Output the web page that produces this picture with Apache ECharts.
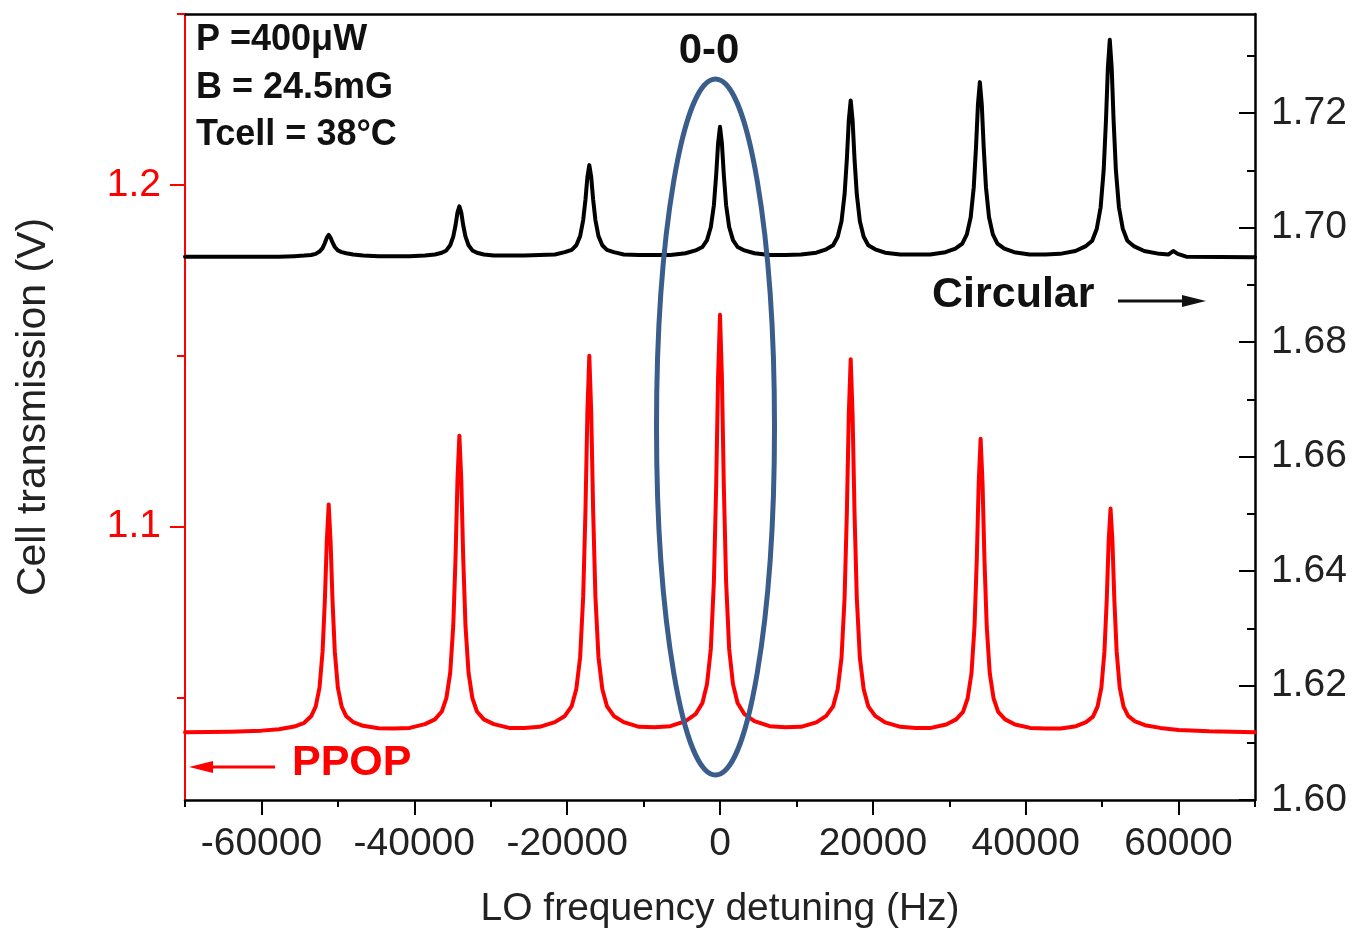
<!DOCTYPE html>
<html>
<head>
<meta charset="utf-8">
<script src="https://cdn.jsdelivr.net/npm/echarts@6/dist/echarts.min.js"></script>
<style>
html,body{margin:0;padding:0;background:#fff;}
#chart{width:1355px;height:937px;}
</style>
</head>
<body>
<div id="chart"></div>
<script>
// ---- Data ----
// PPOP trace (left axis, V) : [detuning Hz, transmission V]
const ppopData = [
  [-70000,1.0398],[-64000,1.0400],[-60000,1.0403],
  [-57700,1.0407],[-55700,1.0415],[-54400,1.0426],[-53500,1.0445],[-52900,1.0473],[-52400,1.0529],[-52000,1.0634],[-51700,1.0784],[-51450,1.0955],[-51200,1.1065],
  [-50950,1.0955],[-50700,1.0784],[-50400,1.0634],[-50000,1.0529],[-49500,1.0473],[-48900,1.0445],[-48000,1.0428],[-46700,1.0417],[-44700,1.0410],
  [-42650,1.0409],
  [-40600,1.0411],[-38600,1.0422],[-37300,1.0436],[-36400,1.0459],[-35800,1.0498],[-35300,1.0572],[-34900,1.0710],[-34600,1.0910],[-34350,1.1136],[-34100,1.1266],
  [-33850,1.1136],[-33600,1.0910],[-33300,1.0710],[-32900,1.0572],[-32400,1.0498],[-31800,1.0459],[-30900,1.0436],[-29600,1.0422],[-27600,1.0411],
  [-25600,1.0411],
  [-23600,1.0414],[-21600,1.0428],[-20300,1.0446],[-19400,1.0475],[-18800,1.0525],[-18300,1.0618],[-17900,1.0795],[-17600,1.1048],[-17350,1.1335],[-17100,1.1500],
  [-16850,1.1335],[-16600,1.1048],[-16300,1.0795],[-15900,1.0618],[-15400,1.0525],[-14800,1.0475],[-13900,1.0446],[-12600,1.0428],[-10600,1.0414],
  [-8550,1.0413],
  [-6500,1.0416],[-4500,1.0431],[-3200,1.0451],[-2300,1.0484],[-1700,1.0539],[-1200,1.0642],[-800,1.0838],[-500,1.1119],[-250,1.1437],[0,1.1620],
  [250,1.1437],[500,1.1119],[800,1.0838],[1200,1.0642],[1700,1.0539],[2300,1.0484],[3200,1.0451],[4500,1.0431],[6500,1.0416],
  [8550,1.0413],
  [10600,1.0414],[12600,1.0427],[13900,1.0446],[14800,1.0474],[15400,1.0524],[15900,1.0616],[16300,1.0791],[16600,1.1042],[16850,1.1326],[17100,1.1490],
  [17350,1.1326],[17600,1.1042],[17900,1.0791],[18300,1.0616],[18800,1.0524],[19400,1.0474],[20300,1.0446],[21600,1.0427],[23600,1.0414],
  [25600,1.0411],
  [27600,1.0411],[29600,1.0421],[30900,1.0436],[31800,1.0458],[32400,1.0497],[32900,1.0570],[33300,1.0707],[33600,1.0905],[33850,1.1128],[34100,1.1257],
  [34350,1.1128],[34600,1.0905],[34900,1.0707],[35300,1.0570],[35800,1.0497],[36400,1.0458],[37300,1.0436],[38600,1.0421],[40600,1.0411],
  [42600,1.0409],
  [44600,1.0409],[46600,1.0416],[47900,1.0428],[48800,1.0444],[49400,1.0473],[49900,1.0529],[50300,1.0634],[50600,1.0784],[50850,1.0955],[51100,1.1053],
  [51350,1.0955],[51600,1.0784],[51900,1.0634],[52300,1.0529],[52800,1.0473],[53400,1.0446],[54300,1.0430],[55600,1.0419],[57600,1.0411],
  [60000,1.0405],[64000,1.0401],[70000,1.0398]
];

// Circular trace (right axis, V) : [detuning Hz, transmission V]
const circularData = [
  [-70000,1.6949],[-60000,1.6949],
  [-57700,1.6949],[-55700,1.6950],[-54400,1.6951],[-53500,1.6952],[-52900,1.6954],[-52400,1.6958],[-52000,1.6964],[-51700,1.6973],[-51450,1.6982],[-51200,1.6987],
  [-50950,1.6982],[-50700,1.6974],[-50400,1.6966],[-50000,1.6960],[-49500,1.6957],[-48900,1.6955],[-48000,1.6953],[-46700,1.6951],[-44700,1.6950],
  [-42650,1.6950],
  [-40600,1.6950],[-38600,1.6951],[-37300,1.6953],[-36400,1.6956],[-35800,1.6960],[-35300,1.6969],[-34900,1.6984],[-34600,1.7004],[-34350,1.7026],[-34100,1.7037],
  [-33850,1.7026],[-33600,1.7004],[-33300,1.6984],[-32900,1.6969],[-32400,1.6960],[-31800,1.6956],[-30900,1.6953],[-29600,1.6951],[-27600,1.6951],
  [-25600,1.6951],
  [-23600,1.6952],[-21600,1.6953],[-20300,1.6957],[-19400,1.6961],[-18800,1.6969],[-18300,1.6985],[-17900,1.7013],[-17600,1.7049],[-17350,1.7088],[-17100,1.7109],
  [-16850,1.7088],[-16600,1.7049],[-16300,1.7013],[-15900,1.6985],[-15400,1.6969],[-14800,1.6961],[-13900,1.6957],[-12600,1.6953],[-10600,1.6952],
  [-8550,1.6952],
  [-6500,1.6952],[-4500,1.6955],[-3200,1.6960],[-2300,1.6966],[-1700,1.6978],[-1200,1.7001],[-800,1.7039],[-500,1.7092],[-250,1.7147],[0,1.7176],
  [250,1.7147],[500,1.7092],[800,1.7039],[1200,1.7001],[1700,1.6978],[2300,1.6966],[3200,1.6960],[4500,1.6955],[6500,1.6952],
  [8550,1.6952],
  [10600,1.6953],[12600,1.6956],[13900,1.6962],[14800,1.6969],[15400,1.6984],[15900,1.7011],[16300,1.7058],[16600,1.7120],[16850,1.7187],[17100,1.7222],
  [17350,1.7187],[17600,1.7120],[17900,1.7058],[18300,1.7011],[18800,1.6984],[19400,1.6969],[20300,1.6962],[21600,1.6956],[23600,1.6953],
  [25600,1.6953],
  [27500,1.6953],[29500,1.6957],[30800,1.6963],[31700,1.6972],[32300,1.6988],[32800,1.7018],[33200,1.7070],[33500,1.7141],[33750,1.7215],[34000,1.7254],
  [34250,1.7215],[34500,1.7141],[34800,1.7070],[35200,1.7018],[35700,1.6988],[36300,1.6972],[37200,1.6963],[38500,1.6957],[40500,1.6953],
  [42550,1.6953],
  [44500,1.6954],[46500,1.6959],[47800,1.6967],[48700,1.6977],[49300,1.6998],[49800,1.7035],[50200,1.7100],[50500,1.7187],[50750,1.7279],[51000,1.7328],
  [51250,1.7279],[51500,1.7187],[51800,1.7100],[52200,1.7035],[52700,1.6998],[53300,1.6977],[54200,1.6967],[55500,1.6959],[57500,1.6954],
  [58700,1.6953],[59300,1.6959],[59900,1.6954],[61000,1.6949],[70000,1.6948]
];

// Axis ticks / labels
const xMajorTicks = [-60000,-40000,-20000,0,20000,40000,60000];
const leftMajorTicks = [1.1,1.2];
const leftMinorTicks = [1.05,1.15,1.25];
const rightMajorTicks = [1.60,1.62,1.64,1.66,1.68,1.70,1.72];
const rightMinorTicks = [1.61,1.63,1.65,1.67,1.69,1.71,1.73];

const FONT = "'Liberation Sans', Arial, Helvetica, sans-serif";
const RED = '#ff0000';
const BLACK = '#000000';
const TEXT = '#222222';

const chart = echarts.init(document.getElementById('chart'), null, {renderer:'canvas'});

const X_MIN = -70000, X_MAX = 70000;
const L_MIN = 1.02, L_MAX = 1.25;
const R_MIN = 1.60, R_MAX = 1.7373;

const option = {
  backgroundColor: '#ffffff',
  animation: false,
  grid: {left:185, right:100, top:14, bottom:137, containLabel:false, outerBoundsMode:'none'},
  xAxis: [
    {
      type:'value', position:'bottom', min:X_MIN, max:X_MAX, interval:10000,
      axisLine:{show:true, onZero:false, lineStyle:{color:BLACK, width:2.5}},
      axisTick:{show:true, inside:false, length:7, lineStyle:{color:BLACK, width:2}},
      axisLabel:{customValues:xMajorTicks, formatter:(v)=>String(v), fontSize:39, color:TEXT, fontFamily:FONT, margin:25},
      splitLine:{show:false},
      name:'LO frequency detuning (Hz)', nameLocation:'middle', nameGap:90,
      nameTextStyle:{fontSize:39, color:TEXT, fontFamily:FONT}
    },
    {
      type:'value', position:'bottom', min:X_MIN, max:X_MAX,
      axisLine:{show:false, onZero:false},
      axisTick:{show:true, inside:false, length:15, customValues:xMajorTicks, lineStyle:{color:BLACK, width:2}},
      axisLabel:{show:false}, splitLine:{show:false}
    },
    {
      type:'value', position:'top', min:X_MIN, max:X_MAX,
      axisLine:{show:true, onZero:false, lineStyle:{color:BLACK, width:2.5}},
      axisTick:{show:false}, axisLabel:{show:false}, splitLine:{show:false}
    }
  ],
  yAxis: [
    {
      type:'value', position:'left', min:L_MIN, max:L_MAX,
      axisLine:{show:true, onZero:false, lineStyle:{color:RED, width:2}},
      axisTick:{show:true, inside:false, length:15, customValues:leftMajorTicks, lineStyle:{color:RED, width:2}},
      axisLabel:{customValues:leftMajorTicks, formatter:(v)=>v.toFixed(1), fontSize:39, color:RED, fontFamily:FONT, margin:24},
      splitLine:{show:false},
      name:'Cell transmission (V)', nameLocation:'middle', nameRotate:90, nameGap:131,
      nameTextStyle:{fontSize:41, color:TEXT, fontFamily:FONT}
    },
    {
      type:'value', position:'right', min:R_MIN, max:R_MAX,
      axisLine:{show:true, onZero:false, lineStyle:{color:BLACK, width:2.5}},
      axisTick:{show:true, inside:true, length:16, customValues:rightMajorTicks, lineStyle:{color:BLACK, width:2}},
      axisLabel:{customValues:rightMajorTicks, formatter:(v)=>v.toFixed(2), fontSize:39, color:TEXT, fontFamily:FONT, margin:16},
      splitLine:{show:false}
    },
    {
      type:'value', position:'left', min:L_MIN, max:L_MAX,
      axisLine:{show:false, onZero:false},
      axisTick:{show:true, inside:false, length:8, customValues:leftMinorTicks, lineStyle:{color:RED, width:2}},
      axisLabel:{show:false}, splitLine:{show:false}
    },
    {
      type:'value', position:'right', min:R_MIN, max:R_MAX,
      axisLine:{show:false, onZero:false},
      axisTick:{show:true, inside:true, length:8, customValues:rightMinorTicks, lineStyle:{color:BLACK, width:2}},
      axisLabel:{show:false}, splitLine:{show:false}
    }
  ],
  series: [
    {
      name:'PPOP', type:'line', xAxisIndex:0, yAxisIndex:0, data:ppopData,
      showSymbol:false, symbol:'none', smooth:false, clip:true,
      lineStyle:{color:RED, width:4, join:'round', cap:'round'}, z:3
    },
    {
      name:'Circular', type:'line', xAxisIndex:0, yAxisIndex:1, data:circularData,
      showSymbol:false, symbol:'none', smooth:false, clip:true,
      lineStyle:{color:BLACK, width:4, join:'round', cap:'round'}, z:3
    }
  ],
  graphic: [
    {type:'text', x:196, y:40, z:100, style:{text:'P =400\u03bcW', font:"bold 36px "+FONT, fill:'#111', textAlign:'left', align:'left', textVerticalAlign:'middle', verticalAlign:'middle'}},
    {type:'text', x:196, y:88, z:100, style:{text:'B = 24.5mG', font:"bold 36px "+FONT, fill:'#111', textAlign:'left', align:'left', textVerticalAlign:'middle', verticalAlign:'middle'}},
    {type:'text', x:196, y:135, z:100, style:{text:'Tcell = 38\u00b0C', font:"bold 36px "+FONT, fill:'#111', textAlign:'left', align:'left', textVerticalAlign:'middle', verticalAlign:'middle'}},
    {type:'text', x:709, y:51, z:100, style:{text:'0-0', font:"bold 42px "+FONT, fill:'#111', textAlign:'center', align:'center', textVerticalAlign:'middle', verticalAlign:'middle'}},
    {type:'text', x:932, y:295, z:100, style:{text:'Circular', font:"bold 43px "+FONT, fill:'#111', textAlign:'left', align:'left', textVerticalAlign:'middle', verticalAlign:'middle'}},
    {type:'line', z:100, shape:{x1:1118, y1:301, x2:1190, y2:301}, style:{stroke:'#111', lineWidth:3}},
    {type:'polygon', z:100, shape:{points:[[1206,301],[1182,295],[1182,307]]}, style:{fill:'#111'}},
    {type:'text', x:292, y:763, z:100, style:{text:'PPOP', font:"bold 43px "+FONT, fill:RED, textAlign:'left', align:'left', textVerticalAlign:'middle', verticalAlign:'middle'}},
    {type:'line', z:100, shape:{x1:275, y1:767, x2:205, y2:767}, style:{stroke:RED, lineWidth:3}},
    {type:'polygon', z:100, shape:{points:[[189,767],[213,761],[213,773]]}, style:{fill:RED}},
    {type:'ellipse', z:100, shape:{cx:715.5, cy:427, rx:59, ry:348}, style:{fill:null, stroke:'#3a5d8c', lineWidth:5}}
  ]
};

chart.setOption(option);
</script>
</body>
</html>
